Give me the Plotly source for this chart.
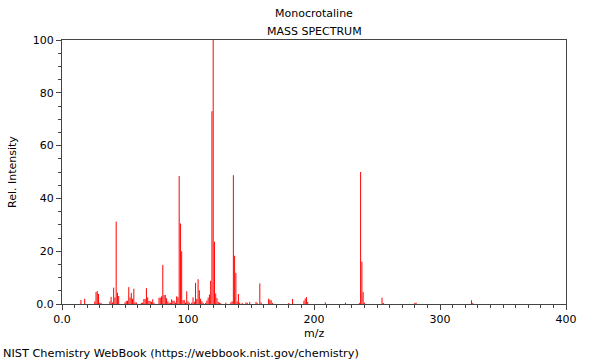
import plotly.graph_objects as go

# m/z values and relative intensities
mz = [15, 18, 26, 27, 28, 29, 30, 31, 38, 39, 40, 41, 42, 43, 44, 45,
      50, 51, 52, 53, 54, 55, 56, 57, 58, 59, 63, 64, 65, 66, 67, 68, 69, 70,
      71, 72, 73, 77, 78, 79, 80, 81, 82, 83, 84, 85, 86, 87, 88, 89, 90,
      91, 92, 93, 94, 95, 96, 97, 98, 99, 100, 101, 103, 104, 105, 106, 107,
      108, 109, 110, 111, 112, 114, 115, 116, 117, 118, 119, 120, 121, 122,
      123, 124, 125, 126, 130, 134, 135, 136, 137, 138, 139, 140, 141, 143,
      146, 147, 149, 154, 155, 157, 158, 164, 165, 166, 167, 180, 183, 192,
      193, 194, 195, 209, 225, 236, 237, 238, 239, 240, 254, 255, 280, 281,
      325, 326]
intensity = [1.5, 2.0, 1.0, 4.5, 4.9, 3.8, 0.5, 0.4, 1.0, 2.7, 0.6, 6.2, 2.5, 31.2, 4.3, 3.0,
             0.6, 1.2, 1.2, 6.4, 2.5, 4.2, 2.0, 5.8, 0.6, 0.6, 0.4, 0.5, 1.9, 1.9, 6.0, 2.5, 1.2, 1.1,
             0.8, 1.8, 0.5, 2.4, 2.4, 2.9, 14.8, 3.4, 3.4, 2.2, 1.0, 0.5, 0.5, 1.8, 1.3, 1.2, 0.5,
             2.9, 2.6, 48.5, 30.5, 20.0, 1.5, 1.5, 0.5, 4.8, 1.0, 0.5, 0.5, 2.5, 0.8, 8.0, 1.9,
             9.4, 5.2, 2.0, 1.1, 0.4, 0.4, 1.3, 2.4, 3.6, 8.8, 73.0, 100.0, 23.6, 4.0,
             2.2, 0.8, 0.5, 0.3, 0.5, 0.6, 1.0, 48.8, 18.3, 11.8, 1.0, 3.8, 0.5, 0.4,
             0.6, 0.5, 0.8, 0.8, 0.3, 7.8, 0.6, 2.0, 1.6, 1.4, 0.4, 0.4, 1.9, 1.2,
             2.1, 2.6, 0.8, 0.6, 0.5, 0.4, 50.0, 16.0, 4.5, 0.5, 2.4, 0.4, 0.4, 0.5,
             1.4, 0.4]

x_tickvals = [0, 100, 200, 300, 400]
x_ticktext = ["0.0", "100", "200", "300", "400"]
y_tickvals = [0, 20, 40, 60, 80, 100]
y_ticktext = ["0.0", "20", "40", "60", "80", "100"]

FONT = "DejaVu Sans"
AXIS_COLOR = "#444444"

# stick spectrum: one vertical segment per peak, built from the data arrays
seg_x, seg_y = [], []
for m, h in zip(mz, intensity):
    seg_x += [m, m, None]
    seg_y += [0, h, None]

fig = go.Figure()
fig.add_trace(go.Scatter(
    x=seg_x, y=seg_y, mode="lines",
    line=dict(color="#ff0000", width=1),
    hoverinfo="skip",
))

fig.update_layout(
    width=600, height=360,
    margin=dict(l=62, r=34, t=40, b=56),
    paper_bgcolor="white", plot_bgcolor="white",
    showlegend=False,
    font=dict(family=FONT, size=11, color="black"),
)

fig.update_xaxes(
    range=[0, 400], showgrid=False, zeroline=False,
    showline=True, linecolor=AXIS_COLOR, linewidth=1, mirror=True,
    ticks="outside", ticklen=5, tickcolor=AXIS_COLOR,
    tickvals=x_tickvals, ticktext=x_ticktext,
    tickfont=dict(family=FONT, size=11, color="black"),
    minor=dict(ticks="outside", ticklen=3, dtick=10, tick0=0, tickcolor=AXIS_COLOR, showgrid=False),
)
fig.update_yaxes(
    range=[0, 100], showgrid=False, zeroline=False,
    showline=True, linecolor=AXIS_COLOR, linewidth=1, mirror=True,
    ticks="outside", ticklen=5, tickcolor=AXIS_COLOR,
    tickvals=y_tickvals, ticktext=y_ticktext,
    tickfont=dict(family=FONT, size=11, color="black"),
    minor=dict(ticks="outside", ticklen=3, dtick=5, tick0=0, tickcolor=AXIS_COLOR, showgrid=False),
)

ann = dict(showarrow=False, font=dict(family=FONT, size=11, color="black"))
fig.add_annotation(text="Monocrotaline", xref="paper", yref="paper", x=0.5, y=1,
                   xanchor="center", yanchor="middle", yshift=27, **ann)
fig.add_annotation(text="MASS SPECTRUM", xref="paper", yref="paper", x=0.5, y=1,
                   xanchor="center", yanchor="middle", yshift=9, **ann)
fig.add_annotation(text="m/z", xref="paper", yref="paper", x=0.5, y=0,
                   xanchor="center", yanchor="middle", yshift=-29, **ann)
fig.add_annotation(text="Rel. Intensity", xref="paper", yref="paper", x=0, y=0.5,
                   xanchor="center", yanchor="middle", xshift=-50, textangle=-90, **ann)
fig.add_annotation(text="NIST Chemistry WebBook (https://webbook.nist.gov/chemistry)",
                   xref="paper", yref="paper", x=0, y=0, xanchor="left", yanchor="middle",
                   xshift=-61, yshift=-49,
                   showarrow=False, font=dict(family=FONT, size=11.3, color="black"))

fig.write_html("out.html", config={"displayModeBar": False},
               post_script="document.body.style.margin='0';document.body.style.overflow='hidden';")
